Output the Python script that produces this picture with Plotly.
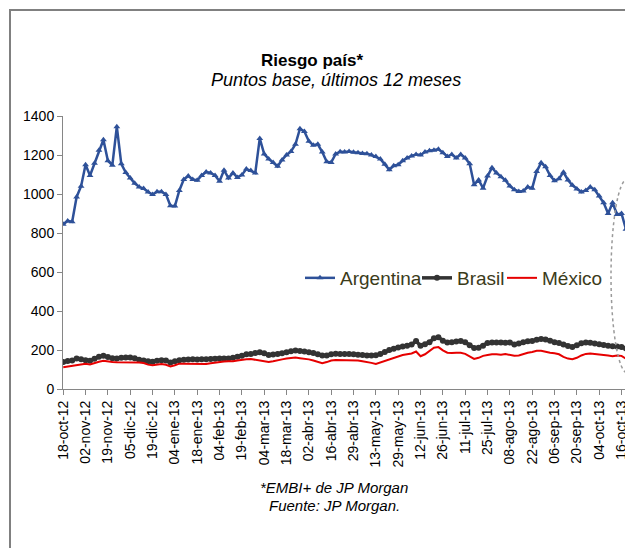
import plotly.graph_objects as go

# Category labels shown on the axis (one every 10 trading days)
tick_labels = ["18-oct-12", "02-nov-12", "19-nov-12", "05-dic-12", "19-dic-12",
               "04-ene-13", "18-ene-13", "04-feb-13", "19-feb-13", "04-mar-13",
               "18-mar-13", "02-abr-13", "16-abr-13", "29-abr-13", "13-may-13",
               "29-may-13", "12-jun-13", "26-jun-13", "11-jul-13", "25-jul-13",
               "08-ago-13", "22-ago-13", "06-sep-13", "20-sep-13", "04-oct-13",
               "16-oct-13"]

# Spread (bp), read every second trading day
argentina = [845, 862, 858, 985, 1040, 1150, 1095, 1158, 1225, 1278,
             1170, 1148, 1345, 1155, 1110, 1082, 1055, 1036, 1028, 1010,
             997, 1012, 1012, 998, 940, 938, 1018, 1075, 1092, 1074,
             1070, 1095, 1113, 1108, 1095, 1065, 1122, 1082, 1108, 1085,
             1098, 1128, 1120, 1108, 1285, 1205, 1180, 1162, 1142, 1175,
             1200, 1218, 1255, 1335, 1320, 1270, 1250, 1255, 1215, 1165,
             1162, 1205, 1217, 1215, 1218, 1214, 1212, 1208, 1207, 1200,
             1192, 1180, 1152, 1125, 1145, 1150, 1170, 1185, 1195, 1202,
             1200, 1215, 1222, 1225, 1229, 1212, 1192, 1203, 1185, 1203,
             1185, 1155, 1048, 1072, 1030, 1092, 1135, 1108, 1088, 1070,
             1041, 1022, 1013, 1015, 1036, 1030, 1115, 1160, 1140, 1095,
             1068, 1078, 1112, 1072, 1045, 1026, 1010, 1018, 1036, 1022,
             990, 955, 900, 955, 895, 900, 819]

brasil = [138, 143, 146, 156, 152, 147, 145, 155, 165, 170,
          164, 158, 157, 160, 161, 162, 158, 150, 146, 142,
          140, 145, 148, 146, 136, 142, 148, 150, 151, 152,
          151, 152, 152, 154, 155, 156, 157, 157, 160, 165,
          170, 178, 180, 184, 188, 183, 175, 177, 180, 183,
          188, 194, 197, 195, 192, 188, 184, 178, 172, 172,
          178, 181, 180, 179, 179, 178, 176, 174, 172, 172,
          173, 180, 190, 200, 207, 213, 218, 222, 228, 246,
          222, 230, 240, 260, 266, 248, 238, 240, 244, 246,
          240, 225, 210, 212, 222, 236, 238, 238, 238, 237,
          238, 228, 233, 240, 245, 246, 252, 256, 254, 247,
          240, 236, 228, 220, 216, 225, 234, 239, 237, 233,
          230, 226, 222, 219, 218, 215, 208]

mexico = [112, 116, 120, 124, 128, 130, 126, 134, 140, 145,
          141, 138, 137, 137, 137, 137, 137, 136, 133, 125,
          122, 126, 128, 124, 116, 122, 130, 130, 130, 129,
          128, 128, 128, 132, 136, 140, 141, 142, 142, 146,
          150, 153, 154, 150, 144, 140, 138, 142, 148, 152,
          156, 159, 161, 158, 156, 152, 146, 140, 132, 138,
          146, 149, 149, 149, 149, 149, 146, 142, 139, 134,
          128, 136, 145, 150, 162, 170, 174, 178, 182, 192,
          168, 178, 195, 212, 215, 198, 186, 184, 186, 186,
          180, 165, 154, 160, 170, 174, 178, 178, 176, 180,
          176, 170, 172, 180, 186, 190, 196, 196, 190, 186,
          183, 178, 165, 156, 153, 160, 172, 180, 182, 180,
          179, 176, 172, 168, 172, 170, 155]

x = list(range(0, 2 * len(argentina), 2))
tick_pos = [10 * k for k in range(len(tick_labels))]

FONT = "Liberation Sans, Arial, sans-serif"

fig = go.Figure()
fig.add_trace(go.Scatter(x=x, y=argentina, name="Argentina", mode="lines+markers",
                         line=dict(color="#2E5199", width=2.5),
                         marker=dict(symbol="triangle-up", size=6, color="#2E5199"),
                         legendwidth=72))
fig.add_trace(go.Scatter(x=x, y=brasil, name="Brasil", mode="lines+markers",
                         line=dict(color="#333333", width=3.5),
                         marker=dict(symbol="circle", size=6, color="#333333"),
                         legendwidth=40))
fig.add_trace(go.Scatter(x=x, y=mexico, name="México", mode="lines",
                         line=dict(color="#E60000", width=2)))

# page pixels -> paper coords (page has an 8px body margin; plot spans 63..628 x 116..389)
def px(v):
    return (v - 63) / 565

def py(v):
    return (389 - v) / 273

fig.update_layout(
    width=633, height=548,
    margin=dict(l=55, r=13, t=108, b=167),
    paper_bgcolor="white", plot_bgcolor="white",
    font=dict(family=FONT, size=14, color="black"),
    showlegend=True,
    legend=dict(orientation="h", x=px(300), y=py(278), xanchor="left", yanchor="middle",
                bgcolor="rgba(0,0,0,0)", font=dict(size=19, color="#3B3B1A"),
                itemwidth=30, tracegroupgap=0),
    xaxis=dict(range=[-0.1, 252.9], tickmode="array", tickvals=tick_pos, ticktext=tick_labels,
               tickangle=-90, ticks="outside", ticklen=5, tickcolor="#868686",
               showline=True, linecolor="#868686", linewidth=1, showgrid=False,
               zeroline=False, tickfont=dict(size=14)),
    yaxis=dict(range=[0, 1400], tickvals=[0, 200, 400, 600, 800, 1000, 1200, 1400],
               ticks="outside", ticklen=5, tickcolor="#868686",
               showline=True, linecolor="#868686", linewidth=1, showgrid=False,
               zeroline=False, tickfont=dict(size=14)),
    shapes=[
        dict(type="rect", xref="paper", yref="paper", x0=px(10), x1=px(680), y0=py(620), y1=py(10),
             line=dict(color="#808080", width=2), layer="below"),
        dict(type="circle", xref="paper", yref="paper", x0=px(611), x1=px(644), y0=py(373), y1=py(179),
             line=dict(color="#9A9A9A", width=1.5, dash="dot")),
    ],
    annotations=[
        dict(text="<b>Riesgo país*</b>", xref="paper", yref="paper", x=px(312), y=py(60),
             xanchor="center", yanchor="middle", showarrow=False, font=dict(size=17)),
        dict(text="<i>Puntos base, últimos 12 meses</i>", xref="paper", yref="paper",
             x=px(336), y=py(80), xanchor="center", yanchor="middle", showarrow=False,
             font=dict(size=18)),
        dict(text="<i>*EMBI+ de JP Morgan</i>", xref="paper", yref="paper",
             x=px(334), y=py(487), xanchor="center", yanchor="middle", showarrow=False,
             font=dict(size=15)),
        dict(text="<i>Fuente: JP Morgan.</i>", xref="paper", yref="paper",
             x=px(334), y=py(505), xanchor="center", yanchor="middle", showarrow=False,
             font=dict(size=15)),
    ],
)

fig.write_html("out.html")
